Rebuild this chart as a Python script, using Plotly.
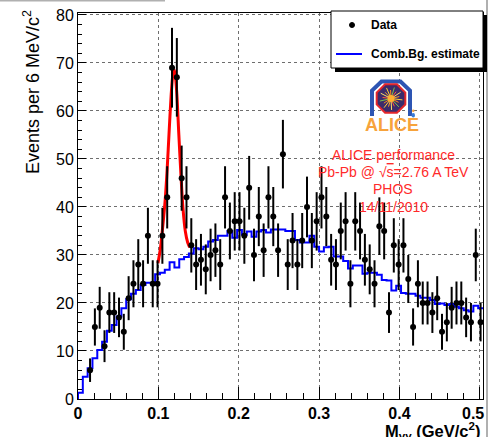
import math
import numpy as np
import plotly.graph_objects as go

# Two-photon invariant mass spectrum, 84 bins of 6 MeV/c^2 from 0 to 0.504 GeV/c^2
bin_width = 0.006
n_bins = 84
x_max = 0.504
y_max = 80.4

# Same-event pair counts per bin (None = empty bin)
data_counts = [None, None, 6, 15, 19, 11, 18, 18, 17, 14,
               21, 24, 28, 24, 34, 24, 24, 34, 42, 69,
               67, 46, 42, 32, 28, 29, 27, 30, 31, 28,
               42, 35, 37, 37, 34, 44, 30, 38, 31, 42,
               38, 31, 51, 28, 33, 28, 33, 40, 33, 37,
               42, 38, 29, 28, 35, 37, 24, 37, 35, 29,
               27, 24, 36, 35, 18, 32, 28, 32, 25, 15,
               24, 20, 20, 18, 21, 14, 16, 19, 20, 20,
               17, 16, 30, 16]

# Combinatorial background estimate per bin
comb_bg = [1.3, 4.65, 6.4, 8.5, 10.2, 11.9, 14.2, 15.4, 17.2, 18.9,
           20.8, 21.9, 22.7, 23.75, 24.2, 24.2, 26.0, 26.3, 26.9, 28.5,
           27.4, 29.1, 29.6, 30.3, 31.4, 31.2, 31.7, 32.8, 33.1, 34.0,
           34.0, 35.0, 33.6, 35.2, 34.2, 34.9, 33.8, 34.9, 35.2, 34.7,
           35.3, 35.3, 35.3, 35.0, 35.0, 33.1, 32.6, 32.6, 34.0, 31.7,
           30.7, 31.6, 31.7, 29.7, 29.7, 28.75, 27.2, 27.8, 27.8, 26.1,
           26.3, 26.3, 25.9, 24.8, 24.7, 22.6, 23.6, 22.1, 21.9, 21.9,
           21.5, 21.1, 21.1, 20.6, 19.8, 19.9, 19.6, 19.8, 19.2, 18.9,
           18.5, 18.2, 19.4, 18.9]

# pi0 peak fit curve (sampled)
fit_mass = [0.0995, 0.1025, 0.1055, 0.1085, 0.1110, 0.1135, 0.1160, 0.1180,
            0.1195, 0.1210, 0.1230, 0.1255, 0.1280, 0.1305, 0.1335, 0.1365, 0.1390]
fit_counts = [28.3, 31.3, 36.0, 41.5, 48.0, 56.0, 63.5, 67.5,
              68.6, 67.6, 63.5, 55.0, 47.0, 40.0, 35.0, 32.6, 31.6]

x_tick_vals = [0, 0.1, 0.2, 0.3, 0.4, 0.5]
# the last label is nudged left so it stays inside the canvas
x_tick_text = ["0", "0.1", "0.2", "0.3", "0.4", "0.5\u00a0\u00a0\u00a0"]

text_lines = ["ALICE performance",
              "Pb-Pb @ √<span style='text-decoration:overline'>s</span>=2.76 A TeV",
              "PHOS",
              "14/11/2010"]

FONT = "Liberation Sans, Arial, Helvetica, sans-serif"
W, H = 491, 437
L, R, T, B = 78, 8, 13, 38
PW, PH = W - L - R, H - T - B


def px(xp):
    return (xp - L) / PW


def py(yp):
    return (H - B - yp) / PH


edges = [i * bin_width for i in range(n_bins + 1)]
centers = [(i + 0.5) * bin_width for i in range(n_bins)]
errors = [math.sqrt(c) if c is not None else None for c in data_counts]

fig = go.Figure()

# background histogram drawn as a step line
fig.add_trace(go.Scatter(
    x=[edges[0]] + edges,
    y=[0] + comb_bg + [comb_bg[-1]],
    mode="lines", line=dict(color="#0000ff", width=2, shape="hv"),
    showlegend=False, hoverinfo="skip"))

fig.add_trace(go.Scatter(
    x=fit_mass, y=fit_counts, mode="lines",
    line=dict(color="#ff0000", width=3, shape="spline", smoothing=0.8),
    showlegend=False, hoverinfo="skip"))

fig.add_trace(go.Scatter(
    x=centers, y=data_counts, mode="markers",
    marker=dict(color="black", size=6),
    error_y=dict(type="data", array=errors, color="black", thickness=2, width=0),
    showlegend=False))

shapes = []

# canvas edge lines
shapes.append(dict(type="line", xref="paper", yref="paper", x0=px(0), x1=px(165),
                   y0=py(0.5), y1=py(0.5), line=dict(color="#b0b0b0", width=2)))
shapes.append(dict(type="line", xref="paper", yref="paper", x0=px(487), x1=px(487),
                   y0=py(0), y1=py(437), line=dict(color="#b0b0b0", width=2)))

# legend box with drop shadow
lx0, lx1, ly0, ly1 = 331, 483, 11, 68
shapes.append(dict(type="rect", xref="paper", yref="paper", layer="above",
                   x0=px(lx0 + 4), x1=px(lx1 + 4), y0=py(ly0 + 4), y1=py(ly1 + 4),
                   fillcolor="black", line=dict(width=0)))
shapes.append(dict(type="rect", xref="paper", yref="paper", layer="above",
                   x0=px(lx0), x1=px(lx1), y0=py(ly0), y1=py(ly1),
                   fillcolor="white", line=dict(color="black", width=1)))
shapes.append(dict(type="circle", xref="paper", yref="paper", layer="above",
                   x0=px(349.5), x1=px(354.5), y0=py(22.5), y1=py(27.5),
                   fillcolor="black", line=dict(color="black", width=1)))
shapes.append(dict(type="line", xref="paper", yref="paper", layer="above",
                   x0=px(336), x1=px(362), y0=py(54), y1=py(54),
                   line=dict(color="#0000ff", width=2)))


# ALICE logo
def octagon(cx, cy, r):
    pts = []
    for k in range(8):
        a = math.radians(22.5 + 45 * k)
        pts.append((cx + r * math.cos(a), cy + r * math.sin(a)))
    return pts


def path_of(pts, close=True):
    s = "M " + " L ".join(f"{px(a):.5f},{py(b):.5f}" for a, b in pts)
    return s + (" Z" if close else "")


lcx, lcy = 391, 98.5
shapes.append(dict(type="path", xref="paper", yref="paper", layer="above",
                   path=path_of([(372, 116), (372, 90.5), (381.5, 81.5), (400.5, 81.5),
                                 (410, 90.5), (410, 116)], close=False),
                   line=dict(color="#2d55b3", width=4)))
shapes.append(dict(type="path", xref="paper", yref="paper", layer="above",
                   path=path_of(octagon(lcx, lcy, 15.5)),
                   fillcolor="#3b2b6b", line=dict(color="#e4262b", width=2)))
ray_colors = ["#ffd23a", "#ff8c1a", "#7cc24a", "#ff5a3a", "#ffe066", "#f0a030"]
for k in range(18):
    a = math.radians(k * 20 + 7)
    rr = 11.5 if k % 2 == 0 else 8.5
    shapes.append(dict(type="line", xref="paper", yref="paper", layer="above",
                       x0=px(lcx), y0=py(lcy),
                       x1=px(lcx + rr * math.cos(a)), y1=py(lcy + rr * math.sin(a)),
                       line=dict(color=ray_colors[k % len(ray_colors)], width=1)))
shapes.append(dict(type="circle", xref="paper", yref="paper", layer="above",
                   x0=px(lcx - 3.5), x1=px(lcx + 3.5), y0=py(lcy - 3.5), y1=py(lcy + 3.5),
                   fillcolor="#ffb030", line=dict(width=0)))
shapes.append(dict(type="circle", xref="paper", yref="paper", layer="above",
                   x0=px(411.5), x1=px(415), y0=py(113), y1=py(117.5),
                   fillcolor="#3a7bd5", line=dict(width=0)))
shapes.append(dict(type="circle", xref="paper", yref="paper", layer="above",
                   x0=px(412), x1=px(414.5), y0=py(109.5), y1=py(112),
                   fillcolor="#f7a33b", line=dict(width=0)))

annotations = []
annotations.append(dict(text="ALICE", xref="paper", yref="paper", x=px(392), y=py(125),
                        xanchor="center", yanchor="middle", showarrow=False,
                        font=dict(family=FONT, size=18, color="#f7a33b", weight="bold")))

for i, line in enumerate(text_lines):
    annotations.append(dict(text=line, xref="paper", yref="paper", x=px(393),
                            y=py(155 + 17.2 * i), xanchor="center", yanchor="middle",
                            showarrow=False,
                            font=dict(family=FONT, size=14, color="#ff2a2a")))

annotations.append(dict(text="Data", xref="paper", yref="paper", x=px(369), y=py(25),
                        xanchor="left", yanchor="middle", showarrow=False,
                        font=dict(family=FONT, size=12, color="black", weight="bold")))
annotations.append(dict(text="Comb.Bg. estimate", xref="paper", yref="paper", x=px(369),
                        y=py(54), xanchor="left", yanchor="middle", showarrow=False,
                        font=dict(family=FONT, size=12, color="black", weight="bold")))

annotations.append(dict(text="Events per 6 MeV/c<sup>2</sup>", xref="paper", yref="paper",
                        x=px(32), y=py(8), xanchor="center", yanchor="top",
                        textangle=-90, showarrow=False,
                        font=dict(family=FONT, size=18, color="black")))
annotations.append(dict(text="<b>M<sub>γγ</sub> (GeV/c<sup>2</sup>)</b>", xref="paper",
                        yref="paper", x=px(383), y=py(418), xanchor="left", yanchor="top",
                        showarrow=False,
                        font=dict(family=FONT, size=16.5, color="black")))

fig.update_layout(
    width=W, height=H,
    margin=dict(l=L, r=R, t=T, b=B, pad=0, autoexpand=False),
    paper_bgcolor="white", plot_bgcolor="white",
    showlegend=False,
    shapes=shapes, annotations=annotations,
    font=dict(family=FONT, color="black"),
)

fig.update_xaxes(
    range=[0, x_max], tickvals=x_tick_vals, ticktext=x_tick_text,
    ticklabeloverflow="allow", automargin=False,
    ticks="inside", ticklen=12, tickwidth=1, tickcolor="black",
    minor=dict(dtick=0.02, tick0=0, ticks="inside", ticklen=6, tickcolor="black",
               showgrid=False),
    showgrid=True, gridcolor="#6e6e6e", griddash="dot", gridwidth=1,
    showline=True, linecolor="black", linewidth=1, mirror=True, zeroline=False,
    tickfont=dict(family=FONT, size=16, color="black", weight="bold"),
)
fig.update_yaxes(
    range=[0, y_max], tick0=0, dtick=10, automargin=False,
    ticks="inside", ticklen=8, tickwidth=1, tickcolor="black",
    minor=dict(dtick=2, tick0=0, ticks="inside", ticklen=4, tickcolor="black",
               showgrid=False),
    showgrid=True, gridcolor="#6e6e6e", griddash="dot", gridwidth=1,
    showline=True, linecolor="black", linewidth=1, mirror=True, zeroline=False,
    tickfont=dict(family=FONT, size=16, color="black"),
)

fig.write_html("out.html")
